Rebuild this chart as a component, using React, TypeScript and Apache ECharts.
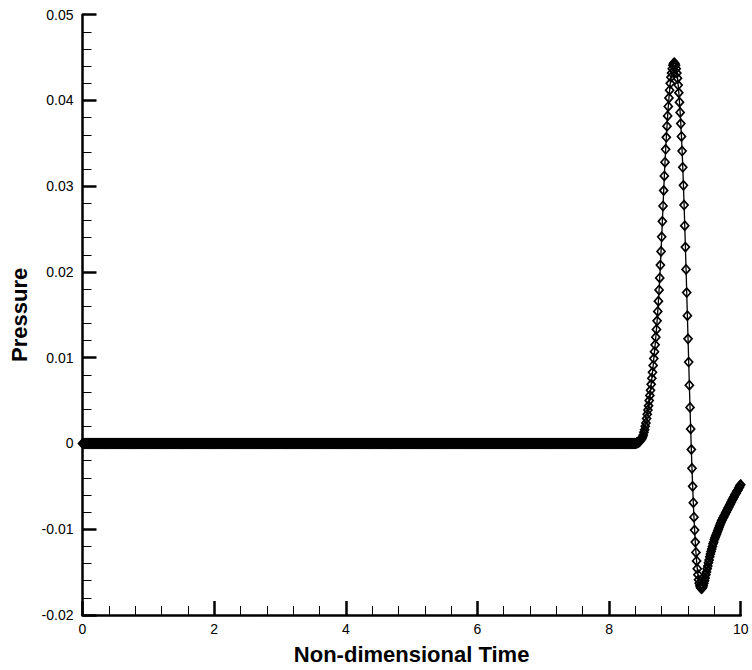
import React, { useEffect, useRef } from "react";
import * as echarts from "echarts";

// Sampling grid of the recorded signal (non-dimensional time)
const TIME_STEP = 0.01;
const PULSE_START = 8.4;

// Pressure samples t = 0.00 ... 8.39 (flat, read as zero)
const pressureBaseline = [
  0,0,0,0,0,0,0,0,0,0,0,0,0,0,0,0,0,0,0,0,0,0,0,0,0,0,0,0,0,0,0,0,0,0,0,0,0,0,0,0,0,0,0,0,0,0,0,0,0,0,0,0,0,0,0,0,0,0,0,0,
  0,0,0,0,0,0,0,0,0,0,0,0,0,0,0,0,0,0,0,0,0,0,0,0,0,0,0,0,0,0,0,0,0,0,0,0,0,0,0,0,0,0,0,0,0,0,0,0,0,0,0,0,0,0,0,0,0,0,0,0,
  0,0,0,0,0,0,0,0,0,0,0,0,0,0,0,0,0,0,0,0,0,0,0,0,0,0,0,0,0,0,0,0,0,0,0,0,0,0,0,0,0,0,0,0,0,0,0,0,0,0,0,0,0,0,0,0,0,0,0,0,
  0,0,0,0,0,0,0,0,0,0,0,0,0,0,0,0,0,0,0,0,0,0,0,0,0,0,0,0,0,0,0,0,0,0,0,0,0,0,0,0,0,0,0,0,0,0,0,0,0,0,0,0,0,0,0,0,0,0,0,0,
  0,0,0,0,0,0,0,0,0,0,0,0,0,0,0,0,0,0,0,0,0,0,0,0,0,0,0,0,0,0,0,0,0,0,0,0,0,0,0,0,0,0,0,0,0,0,0,0,0,0,0,0,0,0,0,0,0,0,0,0,
  0,0,0,0,0,0,0,0,0,0,0,0,0,0,0,0,0,0,0,0,0,0,0,0,0,0,0,0,0,0,0,0,0,0,0,0,0,0,0,0,0,0,0,0,0,0,0,0,0,0,0,0,0,0,0,0,0,0,0,0,
  0,0,0,0,0,0,0,0,0,0,0,0,0,0,0,0,0,0,0,0,0,0,0,0,0,0,0,0,0,0,0,0,0,0,0,0,0,0,0,0,0,0,0,0,0,0,0,0,0,0,0,0,0,0,0,0,0,0,0,0,
  0,0,0,0,0,0,0,0,0,0,0,0,0,0,0,0,0,0,0,0,0,0,0,0,0,0,0,0,0,0,0,0,0,0,0,0,0,0,0,0,0,0,0,0,0,0,0,0,0,0,0,0,0,0,0,0,0,0,0,0,
  0,0,0,0,0,0,0,0,0,0,0,0,0,0,0,0,0,0,0,0,0,0,0,0,0,0,0,0,0,0,0,0,0,0,0,0,0,0,0,0,0,0,0,0,0,0,0,0,0,0,0,0,0,0,0,0,0,0,0,0,
  0,0,0,0,0,0,0,0,0,0,0,0,0,0,0,0,0,0,0,0,0,0,0,0,0,0,0,0,0,0,0,0,0,0,0,0,0,0,0,0,0,0,0,0,0,0,0,0,0,0,0,0,0,0,0,0,0,0,0,0,
  0,0,0,0,0,0,0,0,0,0,0,0,0,0,0,0,0,0,0,0,0,0,0,0,0,0,0,0,0,0,0,0,0,0,0,0,0,0,0,0,0,0,0,0,0,0,0,0,0,0,0,0,0,0,0,0,0,0,0,0,
  0,0,0,0,0,0,0,0,0,0,0,0,0,0,0,0,0,0,0,0,0,0,0,0,0,0,0,0,0,0,0,0,0,0,0,0,0,0,0,0,0,0,0,0,0,0,0,0,0,0,0,0,0,0,0,0,0,0,0,0,
  0,0,0,0,0,0,0,0,0,0,0,0,0,0,0,0,0,0,0,0,0,0,0,0,0,0,0,0,0,0,0,0,0,0,0,0,0,0,0,0,0,0,0,0,0,0,0,0,0,0,0,0,0,0,0,0,0,0,0,0,
  0,0,0,0,0,0,0,0,0,0,0,0,0,0,0,0,0,0,0,0,0,0,0,0,0,0,0,0,0,0,0,0,0,0,0,0,0,0,0,0,0,0,0,0,0,0,0,0,0,0,0,0,0,0,0,0,0,0,0,0,
];

// Pressure samples t = 8.40 ... 10.00 (the pulse), step 0.01
const pressurePulse = [
  0, 0, 0.0001, 0.0001, 0.0001, 0.0002, 0.0002, 0.0003, 0.0004, 0.0005,
  0.0006, 0.0008, 0.001, 0.0013, 0.0016, 0.002, 0.0024, 0.0029, 0.0034, 0.0039,
  0.0044, 0.005, 0.0056, 0.0062, 0.0069, 0.0076, 0.0083, 0.0091, 0.0099, 0.0107,
  0.0115, 0.0124, 0.0133, 0.0143, 0.0154, 0.0166, 0.0179, 0.0193, 0.0208, 0.0224,
  0.0241, 0.0259, 0.0277, 0.0295, 0.0312, 0.0328, 0.0343, 0.0357, 0.037, 0.0382,
  0.0393, 0.0403, 0.0412, 0.042, 0.0427, 0.0432, 0.0437, 0.0441, 0.0443, 0.0444,
  0.0443, 0.0441, 0.0437, 0.0432, 0.0426, 0.0418, 0.0409, 0.0398, 0.0386, 0.0373,
  0.0358, 0.0341, 0.0322, 0.0301, 0.0278, 0.0254, 0.0229, 0.0203, 0.0176, 0.0149,
  0.0122, 0.0095, 0.0068, 0.0042, 0.0017, -0.0007, -0.0029, -0.005, -0.0069, -0.0086,
  -0.0101, -0.0115, -0.0127, -0.0137, -0.0146, -0.0153, -0.0159, -0.0163, -0.0166, -0.0168,
  -0.0169, -0.0169, -0.0168, -0.0166, -0.0163, -0.016, -0.0157, -0.0153, -0.015, -0.0146,
  -0.0143, -0.0139, -0.0136, -0.0132, -0.0129, -0.0126, -0.0123, -0.012, -0.0117, -0.0115,
  -0.0112, -0.011, -0.0108, -0.0106, -0.0104, -0.0102, -0.01, -0.0098, -0.0096, -0.0094,
  -0.0092, -0.009, -0.0089, -0.0087, -0.0086, -0.0084, -0.0083, -0.0081, -0.008, -0.0078,
  -0.0077, -0.0075, -0.0074, -0.0072, -0.0071, -0.0069, -0.0068, -0.0066, -0.0065, -0.0063,
  -0.0062, -0.006, -0.0059, -0.0058, -0.0056, -0.0055, -0.0054, -0.0052, -0.0051, -0.0049,
  -0.0048,
];

const X_MIN = 0;
const X_MAX = 10;
const X_INTERVAL = 2;
const Y_MIN = -0.02;
const Y_MAX = 0.05;
const Y_INTERVAL = 0.01;

const X_TITLE = "Non-dimensional Time";
const Y_TITLE = "Pressure";

const FONT = "'Liberation Sans', Arial, Helvetica, sans-serif";

export default function App() {
  const ref = useRef<HTMLDivElement>(null);

  useEffect(() => {
    if (!ref.current) return;
    const chart = echarts.init(ref.current, null, { renderer: "svg" });

    const data: number[][] = [];
    pressureBaseline.forEach((p, i) => {
      data.push([Number((i * TIME_STEP).toFixed(2)), p]);
    });
    pressurePulse.forEach((p, j) => {
      data.push([Number((PULSE_START + j * TIME_STEP).toFixed(2)), p]);
    });

    const axisCommon = {
      type: "value" as const,
      splitLine: { show: false },
      minorSplitLine: { show: false },
      axisTick: {
        show: true,
        inside: true,
        length: 14,
        lineStyle: { color: "#000", width: 2.5 },
      },
      minorTick: {
        show: true,
        splitNumber: 5,
        length: 9,
        lineStyle: { color: "#000", width: 1 },
      },
      nameLocation: "middle" as const,
      nameTextStyle: {
        fontFamily: FONT,
        fontWeight: "bold" as const,
        fontSize: 22,
        color: "#000",
      },
    };

    chart.setOption({
      animation: false,
      backgroundColor: "#ffffff",
      grid: { left: 82.5, top: 14.7, width: 658.2, height: 601, containLabel: false },
      xAxis: {
        ...axisCommon,
        min: X_MIN,
        max: X_MAX,
        interval: X_INTERVAL,
        name: X_TITLE,
        nameGap: 28,
        axisLine: { show: true, onZero: false, lineStyle: { color: "#000", width: 2.5 } },
        axisLabel: { fontFamily: FONT, fontSize: 14, color: "#000", margin: 7 },
      },
      yAxis: {
        ...axisCommon,
        min: Y_MIN,
        max: Y_MAX,
        interval: Y_INTERVAL,
        name: Y_TITLE,
        nameGap: 49,
        axisLine: { show: true, onZero: false, lineStyle: { color: "#000", width: 2.5 } },
        axisLabel: { fontFamily: FONT, fontSize: 14, color: "#000", margin: 9 },
      },
      series: [
        {
          type: "line",
          data,
          symbol: "diamond",
          symbolSize: [8, 9],
          showSymbol: true,
          showAllSymbol: true,
          clip: false,
          silent: true,
          lineStyle: { color: "#000", width: 1.3 },
          itemStyle: { color: "rgba(255,255,255,0)", borderColor: "#000", borderWidth: 1.7 },
          emphasis: { disabled: true },
          z: 3,
        },
      ],
    });

    return () => chart.dispose();
  }, []);

  return (
    <div
      ref={ref}
      style={{ position: "fixed", left: 0, top: 0, width: 752, height: 670, background: "#fff" }}
    />
  );
}
